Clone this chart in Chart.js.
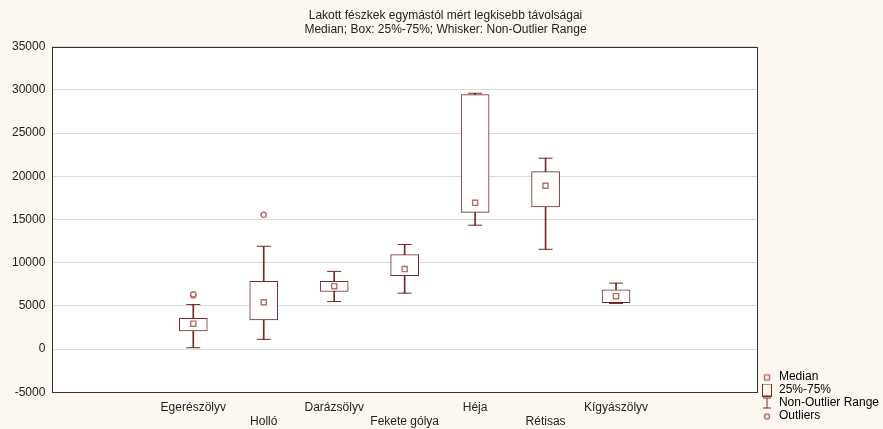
<!DOCTYPE html>
<html>
<head>
<meta charset="utf-8">
<script src="https://cdn.jsdelivr.net/npm/chart.js@4/dist/chart.umd.min.js"></script>
<style>
    body { margin: 0; background: #fcf8f0; }
    #wrap { width: 883px; height: 429px; }
</style>
</head>
<body>
<div id="wrap"><canvas id="boxChart"></canvas></div>
<script>
const categories = ["Egerészölyv", "Holló", "Darázsölyv", "Fekete gólya", "Héja", "Rétisas", "Kígyászölyv"];
const medians     = [2940, 5420, 7280, 9260, 16930, 18910, 6120];
const q1          = [2090, 3370, 6660, 8490, 15820, 16470, 5380];
const q3          = [3560, 7830, 7830, 10930, 29460, 20540, 6860];
const whiskerLow  = [150, 1120, 5500, 6470, 14340, 11550, 5270];
const whiskerHigh = [5150, 11900, 8990, 12100, 29620, 22100, 7630];
const outlierCats = ["Egerészölyv", "Egerészölyv", "Holló"];
const outlierVals = [6200, 6330, 15540];
const yTicks = { min: -5000, max: 35000, step: 5000 };

// two empty slots on each side of the categories
const slots = ["", "", ...categories, "", ""];
const pad = arr => [null, null, ...arr, null, null];

const FONT = "'Liberation Sans', Arial, sans-serif";
const DARK = "#742828";
const PINK = "#b86e6c";

function symbol(draw) {
    const c = document.createElement("canvas");
    c.width = 12; c.height = 13;
    const g = c.getContext("2d");
    g.lineWidth = 1;
    draw(g);
    return c;
}
const legendSymbols = [
    symbol(g => { g.strokeStyle = PINK; g.lineWidth = 1.4; g.strokeRect(3.5, 4.5, 5, 5); }),
    symbol(g => { g.strokeStyle = DARK; g.strokeRect(1.5, 0.5, 9, 12); }),
    symbol(g => {
        g.strokeStyle = DARK; g.beginPath();
        g.moveTo(2, 1.5); g.lineTo(10, 1.5);
        g.moveTo(6, 1.5); g.lineTo(6, 11.5);
        g.moveTo(2, 11.5); g.lineTo(10, 11.5);
        g.stroke();
    }),
    symbol(g => { g.strokeStyle = PINK; g.lineWidth = 1.4; g.beginPath(); g.arc(6, 7, 2.5, 0, Math.PI * 2); g.stroke(); })
];
const legendNames = ["Median", "25%-75%", "Non-Outlier Range", "Outliers"];

const plotFrame = {
    id: "plotFrame",
    afterLayout(chart) {
        // nudge the legend block up off the bottom edge and closer to the right
        const lg = chart.legend;
        if (lg) {
            lg.top -= 6;
            lg.bottom -= 6;
            lg.left += 3;
            lg.right += 3;
        }
    },
    beforeDraw(chart) {
        const { ctx, chartArea: a } = chart;
        ctx.save();
        ctx.fillStyle = "#fcf8f0";
        ctx.fillRect(0, 0, chart.width, chart.height);
        ctx.fillStyle = "#ffffff";
        ctx.fillRect(a.left, a.top, a.right - a.left, a.bottom - a.top);
        ctx.restore();
    },
    afterDraw(chart) {
        const { ctx, chartArea: a } = chart;
        ctx.save();
        ctx.strokeStyle = "#333333";
        ctx.lineWidth = 1;
        ctx.strokeRect(Math.round(a.left) + 0.5, Math.round(a.top) + 0.5,
            Math.round(a.right - a.left), Math.round(a.bottom - a.top));
        ctx.restore();
    }
};

const pointSet = (label, data, style, radius, color, width, order) => ({
    type: "line",
    label: label,
    data: data,
    showLine: false,
    pointStyle: style,
    pointRadius: radius,
    pointHoverRadius: radius,
    pointBorderColor: color,
    pointBackgroundColor: "#ffffff",
    pointBorderWidth: width,
    order: order
});

new Chart(document.getElementById("boxChart"), {
    data: {
        labels: slots,
        datasets: [
            {
                type: "bar",
                label: "whisker",
                data: pad(whiskerLow.map((v, i) => [v, whiskerHigh[i]])),
                backgroundColor: DARK,
                borderWidth: 0,
                barThickness: 1,
                grouped: false,
                order: 4
            },
            {
                type: "bar",
                label: "box",
                data: pad(q1.map((v, i) => [v, q3[i]])),
                backgroundColor: "#ffffff",
                borderColor: DARK,
                borderWidth: 1,
                borderSkipped: false,
                barThickness: 28,
                grouped: false,
                order: 3
            },
            pointSet("capLow", pad(whiskerLow), "line", 7, DARK, 1, 2),
            pointSet("capHigh", pad(whiskerHigh), "line", 7, DARK, 1, 2),
            pointSet("median", pad(medians), "rect", 3.6, PINK, 1.4, 1),
            pointSet("outliers", outlierCats.map((c, i) => ({ x: c, y: outlierVals[i] })), "circle", 2.6, PINK, 1.4, 1)
        ]
    },
    options: {
        responsive: true,
        maintainAspectRatio: false,
        animation: false,
        layout: { padding: { left: 5, top: 0, right: -3, bottom: 0 } },
        scales: {
            x: {
                type: "category",
                offset: false,
                grid: { display: false },
                border: { display: false },
                ticks: {
                    autoSkip: false,
                    maxRotation: 0,
                    padding: 0,
                    color: "#222222",
                    font: { family: FONT, size: 12 },
                    callback: function (value, index) {
                        const name = slots[index];
                        if (!name) return "";
                        return (index % 2 === 0) ? [name] : ["", name];
                    }
                }
            },
            y: {
                min: yTicks.min,
                max: yTicks.max,
                border: { display: false },
                grid: { color: "#dadada", lineWidth: 1, drawTicks: false },
                ticks: {
                    stepSize: yTicks.step,
                    padding: 7,
                    color: "#222222",
                    font: { family: FONT, size: 12 },
                    callback: v => String(v)
                }
            }
        },
        plugins: {
            title: {
                display: true,
                text: ["Lakott fészkek egymástól mért legkisebb távolságai", "Median; Box: 25%-75%; Whisker: Non-Outlier Range"],
                color: "#222222",
                font: { family: FONT, size: 12, weight: "normal" },
                padding: { top: 8, bottom: 10 }
            },
            legend: {
                position: "right",
                align: "end",
                labels: {
                    usePointStyle: true,
                    boxWidth: 12,
                    boxHeight: 12,
                    padding: 1,
                    color: "#222222",
                    font: { family: FONT, size: 12 },
                    generateLabels: () => legendNames.map((n, i) => ({
                        text: n,
                        pointStyle: legendSymbols[i],
                        fillStyle: "#ffffff",
                        strokeStyle: DARK,
                        lineWidth: 0,
                        hidden: false,
                        datasetIndex: i
                    }))
                },
                onClick: () => {}
            },
            tooltip: { enabled: false }
        }
    },
    plugins: [plotFrame]
});
</script>
</body>
</html>
